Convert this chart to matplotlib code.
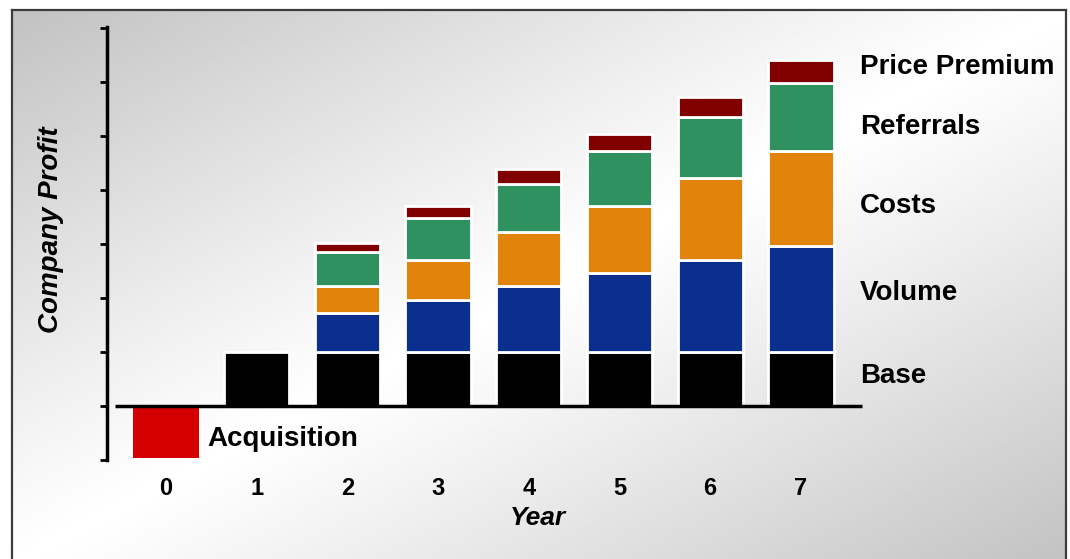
import matplotlib
matplotlib.use("Agg")
import matplotlib.pyplot as plt
import numpy as np

plt.rcParams['font.family'] = ['Liberation Sans', 'DejaVu Sans']

# values (profit units, one tick = 1)
years = [0, 1, 2, 3, 4, 5, 6, 7]
acquisition = [-0.96, 0, 0, 0, 0, 0, 0, 0]
base = [0, 1, 1, 1, 1, 1, 1, 1]
volume = [0, 0, 0.72, 0.96, 1.22, 1.46, 1.70, 1.96]
costs = [0, 0, 0.50, 0.74, 1.00, 1.24, 1.52, 1.76]
referrals = [0, 0, 0.63, 0.78, 0.89, 1.02, 1.13, 1.26]
premium = [0, 0, 0.17, 0.22, 0.28, 0.32, 0.37, 0.43]

series = ["Base", "Volume", "Costs", "Referrals", "Price Premium"]
colors = ["#000000", "#0a2f8e", "#e2830c", "#2f9160", "#800000"]
label_y = [0.56, 2.09, 3.70, 5.17, 6.28]

W, H = 1070, 559
fig = plt.figure(figsize=(W / 100, H / 100), dpi=100)
fig.patch.set_facecolor("white")

# gradient panel with frame
bg = fig.add_axes([12 / W, -0.01, (1066 - 12) / W, (H - 10) / H + 0.01])
u = np.linspace(0, 1, 300)
v = np.linspace(0, 1, 200)
U, V = np.meshgrid(u, v)
t = (U + V) / 2
g = 1 - 0.24 * np.abs(2 * t - 1) ** 1.1
bg.imshow(g, cmap="gray", vmin=0, vmax=1, aspect="auto", extent=[0, 1, 1, 0])
bg.set_xticks([])
bg.set_yticks([])
for side in ["top", "left", "right"]:
    bg.spines[side].set_color("#3c3c3c")
    bg.spines[side].set_linewidth(1.6)
bg.spines["bottom"].set_visible(False)

# main chart
ax = fig.add_axes([107 / W, (H - 460) / H, 953 / W, 433 / H])
ax.patch.set_alpha(0)
ax.set_xlim(-0.65, -0.65 + 953 / 90.7)
ax.set_ylim(-1, 7.02)

bw = 0.72
ax.bar(years[0], acquisition[0], width=bw, color="#d40000", edgecolor="none")
stack = [base, volume, costs, referrals, premium]
bottoms = np.zeros(len(years))
for vals, c in zip(stack, colors):
    vals = np.array(vals)
    m = vals > 0
    ax.bar(np.array(years)[m], vals[m], width=bw, bottom=bottoms[m], color=c,
           edgecolor="white", linewidth=2.0)
    bottoms += vals

ax.hlines(0, -0.56, 7.67, color="black", linewidth=2.5)

for name, y in zip(series, label_y):
    ax.text(7.65, y, name, fontsize=20, fontweight="bold", va="center", ha="left")
ax.text(0.46, -0.62, "Acquisition", fontsize=20, fontweight="bold", va="center", ha="left")

for s in ["top", "right", "bottom"]:
    ax.spines[s].set_visible(False)
ax.spines["left"].set_linewidth(2.5)
ax.set_yticks(range(-1, 8))
ax.set_yticklabels([])
ax.tick_params(axis="y", length=5, width=2, direction="out")
ax.set_xticks(years)
ax.set_xticklabels([str(y) for y in years], fontsize=17, fontweight="bold")
ax.tick_params(axis="x", length=0, pad=12)

fig.text(538 / W, 1 - 518 / H, "Year", fontsize=19, fontweight="bold", style="italic",
         ha="center", va="center")
fig.text(51 / W, 1 - 230 / H, "Company Profit", fontsize=20, fontweight="bold",
         style="italic", rotation=90, ha="center", va="center")

fig.savefig("out.png", dpi=100)
